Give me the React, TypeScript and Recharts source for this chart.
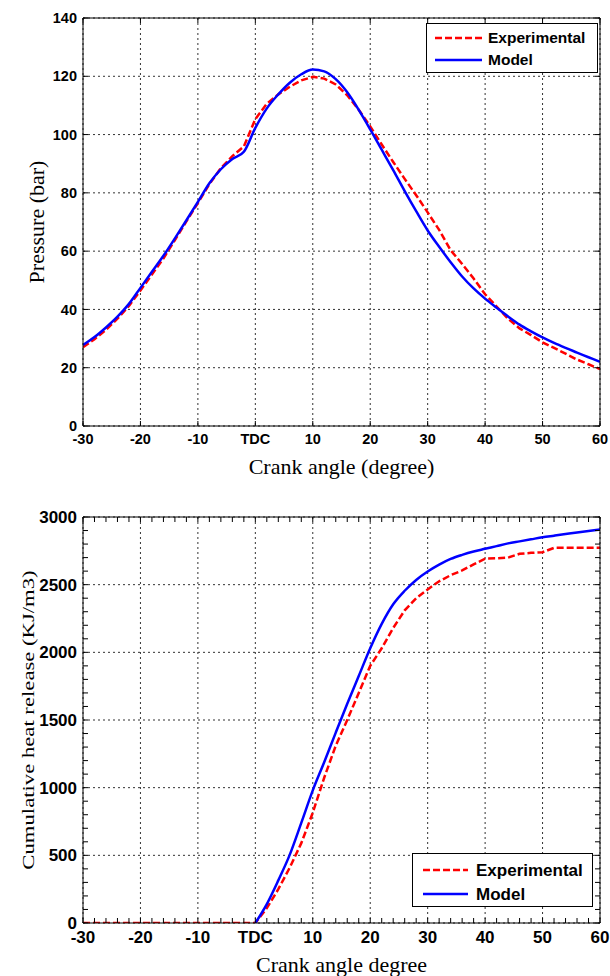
import { LineChart, Line, XAxis, YAxis, CartesianGrid, Legend, Label } from 'recharts';

// crank angle, degrees (TDC = 0)
const ANGLES = [
  -30, -28, -26, -24, -22, -20, -18, -16, -14, -12, -10, -8, -6, -4, -2,
  0, 2, 4, 6, 8, 10, 12, 14, 16, 18, 20, 22, 24, 26, 28, 30,
  32, 34, 36, 38, 40, 42, 44, 46, 48, 50, 52, 54, 56, 58, 60,
];

// cylinder pressure, bar
const PRESSURE_EXP = [
  27.0, 29.8, 33.0, 36.8, 41.2, 46.5, 52.0, 57.5, 63.8, 70.2, 76.5, 83.0, 88.5, 92.6, 95.9,
  105.3, 110.6, 113.8, 116.4, 118.6, 119.8, 119.2, 117.2, 113.5, 108.5, 102.8, 96.6, 90.6, 84.8, 79.2, 73.3,
  67.3, 60.3, 55.6, 50.6, 45.2, 41.0, 36.8, 33.5, 31.2, 28.7, 26.8, 24.8, 22.8, 21.2, 19.5,
];
const PRESSURE_MODEL = [
  27.8, 30.5, 33.8, 37.5, 41.9, 47.4, 52.9, 58.4, 64.4, 70.6, 76.9, 83.3, 88.1, 91.6, 94.1,
  102.3, 109.0, 113.8, 117.8, 120.7, 122.3, 121.7, 119.0, 114.5, 108.5, 101.8, 94.8, 87.8, 80.6, 73.7, 67.1,
  61.5, 56.2, 51.3, 47.2, 43.7, 40.6, 37.6, 34.8, 32.5, 30.4, 28.5, 26.8, 25.2, 23.6, 22.0,
];

// cumulative heat release, KJ/m3
const HEAT_EXP = [
  0, 0, 0, 0, 0, 0, 0, 0, 0, 0, 0, 0, 0, 0, 0,
  0, 110, 250, 410, 590, 815, 1075, 1310, 1500, 1700, 1900, 2030, 2180, 2310, 2400, 2465,
  2525, 2570, 2605, 2650, 2692, 2695, 2700, 2728, 2735, 2740, 2772, 2772, 2772, 2772, 2772,
];
const HEAT_MODEL = [
  null, null, null, null, null, null, null, null, null, null, null, null, null, null, null,
  0, 140, 315, 505, 740, 980, 1190, 1407, 1620, 1825, 2030, 2210, 2355, 2455, 2535, 2597,
  2648, 2690, 2720, 2745, 2765, 2785, 2805, 2820, 2835, 2850, 2862, 2874, 2886, 2897, 2907,
];

const X_TICKS = [-30, -20, -10, 0, 10, 20, 30, 40, 50, 60];
const P_TICKS = [0, 20, 40, 60, 80, 100, 120, 140];
const Q_TICKS = [0, 500, 1000, 1500, 2000, 2500, 3000];
const Q_MINOR = [
  0, 100, 200, 300, 400, 500, 600, 700, 800, 900, 1000, 1100, 1200, 1300, 1400, 1500,
  1600, 1700, 1800, 1900, 2000, 2100, 2200, 2300, 2400, 2500, 2600, 2700, 2800, 2900, 3000,
];

const SERIES = [
  { name: 'Experimental', color: '#ff0000', dash: '7 3' },
  { name: 'Model', color: '#0000ff', dash: undefined },
];

const pressureData = ANGLES.map((a, i) => ({ angle: a, exp: PRESSURE_EXP[i], model: PRESSURE_MODEL[i] }));
const heatData = ANGLES.map((a, i) => ({ angle: a, exp: HEAT_EXP[i], model: HEAT_MODEL[i] }));

const fmtAngle = (v: number) => (v === 0 ? 'TDC' : String(v));
const SERIF = '"Liberation Serif", "Times New Roman", serif';
const SANS = '"Liberation Sans", Arial, sans-serif';
const MARGIN_X = 8;
const MARGIN_Y = 6;
const TICK_LEN = 5;

// x tick: inward marks at bottom and top of the box, label on majors only
const xTick = (majors: number[], plotH: number, size: number) => (props: any) => {
  const { x, y, payload } = props;
  const axisY = y - MARGIN_X;
  const v = payload.value;
  return (
    <g>
      <line x1={x} y1={axisY} x2={x} y2={axisY - TICK_LEN} stroke="#000" />
      <line x1={x} y1={axisY - plotH} x2={x} y2={axisY - plotH + TICK_LEN} stroke="#000" />
      {majors.includes(v) && (
        <text x={x} y={y} dy="0.71em" textAnchor="middle" fontFamily={SANS} fontWeight="bold" fontSize={size} fill="#000">
          {fmtAngle(v)}
        </text>
      )}
    </g>
  );
};

// y tick: inward marks at left and right of the box, label on majors only
const yTick = (majors: number[], plotW: number, size: number) => (props: any) => {
  const { x, y, payload } = props;
  const axisX = x + MARGIN_Y;
  const v = payload.value;
  return (
    <g>
      <line x1={axisX} y1={y} x2={axisX + TICK_LEN} y2={y} stroke="#000" />
      <line x1={axisX + plotW} y1={y} x2={axisX + plotW - TICK_LEN} y2={y} stroke="#000" />
      {majors.includes(v) && (
        <text x={x} y={y} dy="0.355em" textAnchor="end" fontFamily={SANS} fontWeight="bold" fontSize={size} fill="#000">
          {v}
        </text>
      )}
    </g>
  );
};

// grid only on the major ticks
const gridX = (props: any) => {
  const s = props.xAxis && props.xAxis.scale;
  if (typeof s === 'function') return X_TICKS.map((v) => s(v));
  const o = props.offset;
  return X_TICKS.map((v) => o.left + ((v + 30) / 90) * o.width);
};
const gridY = (ticks: number[], max: number) => (props: any) => {
  const s = props.yAxis && props.yAxis.scale;
  if (typeof s === 'function') return ticks.map((v) => s(v));
  const o = props.offset;
  return ticks.map((v) => o.top + o.height - (v / max) * o.height);
};

const xTitle = (text: string, dy: number) => (props: any) => {
  const vb = props.viewBox || { x: 83, y: 0, width: 517 };
  return (
    <text x={vb.x + vb.width / 2} y={vb.y + dy} textAnchor="middle" dominantBaseline="central"
      fontFamily={SERIF} fontSize={22} fill="#000">
      {text}
    </text>
  );
};

const yTitle = (text: string, cx: number, size: number, stretch: number) => (props: any) => {
  const vb = props.viewBox || { y: 0, height: 400 };
  const cy = vb.y + vb.height / 2;
  return (
    <text x={0} y={0} transform={`translate(${cx}, ${cy}) rotate(-90) scale(${stretch}, 1)`} textAnchor="middle"
      dominantBaseline="central" fontFamily={SERIF} fontSize={size} fill="#000">
      {text}
    </text>
  );
};

const legendBox = (w: number, h: number, padTop: number, padLeft: number, rowH: number, lineLen: number, gap: number, size: number) => () => (
  <div style={{ width: w, height: h, boxSizing: 'border-box', border: '1px solid #000', background: '#fff', paddingTop: padTop, paddingLeft: padLeft }}>
    {SERIES.map((s) => (
      <div key={s.name} style={{ display: 'flex', alignItems: 'center', height: rowH }}>
        <svg width={lineLen} height={6} style={{ display: 'block' }}>
          <line x1={0} y1={3} x2={lineLen} y2={3} stroke={s.color} strokeWidth={2.5} strokeDasharray={s.dash} />
        </svg>
        <span style={{ marginLeft: gap, fontFamily: SANS, fontWeight: 'bold', fontSize: size, color: '#000', lineHeight: 1 }}>{s.name}</span>
      </div>
    ))}
  </div>
);

export default function App() {
  const frame = { stroke: '#000', strokeWidth: 1 };

  return (
    <div style={{ position: 'absolute', left: 0, top: 0, width: 610, height: 976, background: '#fff' }}>
      {/* Pressure vs crank angle */}
      <LineChart width={610} height={490} data={pressureData} margin={{ top: 18, right: 10, bottom: 14, left: 0 }}>
        <CartesianGrid xAxisId="x" yAxisId="y" stroke="#333" strokeDasharray="2 3"
          verticalCoordinatesGenerator={gridX} horizontalCoordinatesGenerator={gridY(P_TICKS, 140)} />
        <XAxis xAxisId="x" dataKey="angle" type="number" domain={[-30, 60]} ticks={X_TICKS} interval={0}
          tickLine={false} tickSize={0} axisLine={frame} tick={xTick(X_TICKS, 408, 14.5)} tickMargin={MARGIN_X} height={50} allowDataOverflow>
          <Label content={xTitle('Crank angle (degree)', 40)} />
        </XAxis>
        <XAxis xAxisId="xt" orientation="top" type="number" domain={[-30, 60]} ticks={X_TICKS} mirror tick={false}
          axisLine={frame} tickLine={false} allowDataOverflow />
        <YAxis yAxisId="y" type="number" domain={[0, 140]} ticks={P_TICKS} interval={0} tickLine={false} tickSize={0}
          axisLine={frame} tick={yTick(P_TICKS, 517, 14.5)} tickMargin={MARGIN_Y} width={83} allowDataOverflow>
          <Label content={yTitle('Pressure (bar)', 36, 22, 1)} />
        </YAxis>
        <YAxis yAxisId="yr" orientation="right" type="number" domain={[0, 140]} ticks={P_TICKS} mirror tick={false}
          axisLine={frame} tickLine={false} allowDataOverflow />
        <Legend layout="vertical" align="center" verticalAlign="middle"
          wrapperStyle={{ top: 23, left: 426, width: 172, height: 50 }}
          content={legendBox(172, 50, 3, 8, 22, 47, 6, 15.5)} />
        <Line xAxisId="x" yAxisId="y" type="linear" dataKey="exp" name="Experimental" stroke="#ff0000"
          strokeWidth={2.5} strokeDasharray="7 3" dot={false} isAnimationActive={false} />
        <Line xAxisId="x" yAxisId="y" type="monotone" dataKey="model" name="Model" stroke="#0000ff"
          strokeWidth={2.5} dot={false} isAnimationActive={false} />
      </LineChart>

      {/* Cumulative heat release vs crank angle */}
      <LineChart width={610} height={486} data={heatData} margin={{ top: 27, right: 10, bottom: 3, left: 0 }}>
        <CartesianGrid xAxisId="x" yAxisId="y" stroke="#333" strokeDasharray="2 3"
          verticalCoordinatesGenerator={gridX} horizontalCoordinatesGenerator={gridY(Q_TICKS, 3000)} />
        <XAxis xAxisId="x" dataKey="angle" type="number" domain={[-30, 60]} ticks={ANGLES} interval={0}
          tickLine={false} tickSize={0} axisLine={frame} tick={xTick(X_TICKS, 406, 17)} tickMargin={MARGIN_X} height={50} allowDataOverflow>
          <Label content={xTitle('Crank angle degree', 41)} />
        </XAxis>
        <XAxis xAxisId="xt" orientation="top" type="number" domain={[-30, 60]} ticks={X_TICKS} mirror tick={false}
          axisLine={frame} tickLine={false} allowDataOverflow />
        <YAxis yAxisId="y" type="number" domain={[0, 3000]} ticks={Q_MINOR} interval={0} tickLine={false} tickSize={0}
          axisLine={frame} tick={yTick(Q_TICKS, 517, 17)} tickMargin={MARGIN_Y} width={83} allowDataOverflow>
          <Label content={yTitle('Cumulative heat release (KJ/m3)', 28, 16, 1.42)} />
        </YAxis>
        <YAxis yAxisId="yr" orientation="right" type="number" domain={[0, 3000]} ticks={Q_TICKS} mirror tick={false}
          axisLine={frame} tickLine={false} allowDataOverflow />
        <Legend layout="vertical" align="center" verticalAlign="middle"
          wrapperStyle={{ top: 363, left: 412, width: 181, height: 54 }}
          content={legendBox(181, 54, 4, 10, 24, 45, 8, 17)} />
        <Line xAxisId="x" yAxisId="y" type="linear" dataKey="exp" name="Experimental" stroke="#ff0000"
          strokeWidth={2.5} strokeDasharray="7 3" dot={false} isAnimationActive={false} />
        <Line xAxisId="x" yAxisId="y" type="monotone" dataKey="model" name="Model" stroke="#0000ff"
          strokeWidth={2.5} dot={false} isAnimationActive={false} connectNulls={false} />
      </LineChart>
    </div>
  );
}
